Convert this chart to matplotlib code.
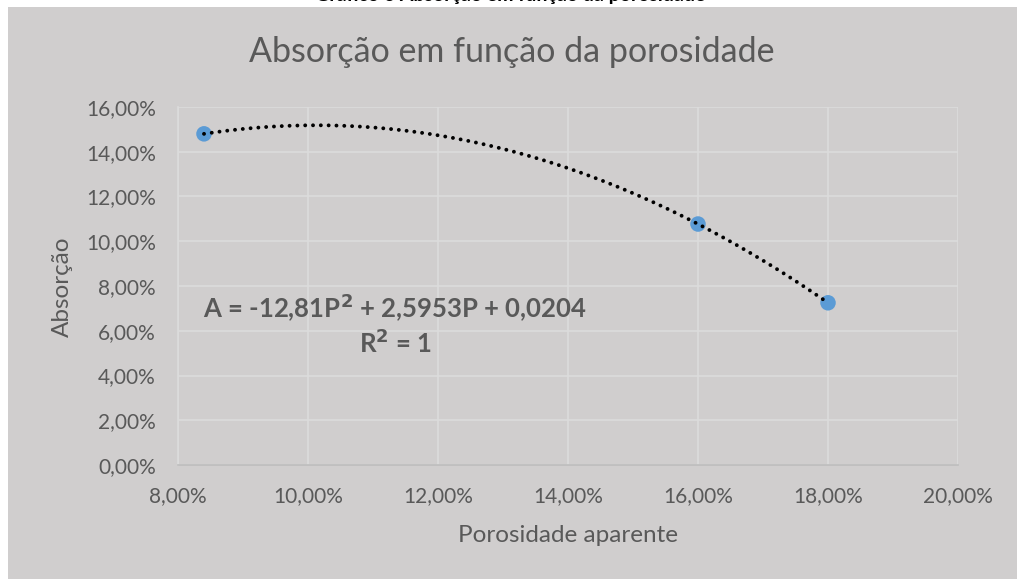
import matplotlib
matplotlib.use("Agg")
import matplotlib.pyplot as plt
import numpy as np
from matplotlib.ticker import FuncFormatter, MultipleLocator
from matplotlib.patches import Rectangle

porosidade = [0.084, 0.16, 0.18]
absorcao = [0.148, 0.1077, 0.0725]
equation_text = "A = -12,81P$^{\\mathbf{2}}$ + 2,5953P + 0,0204"
r2_text = "R$^{\\mathbf{2}}$ = 1"
title = "Absorção em função da porosidade"
top_title = "Gráfico 6 Absorção em função da porosidade"
xlabel = "Porosidade aparente"
ylabel = "Absorção"

W, H = 1017, 579
fig = plt.figure(figsize=(W / 100, H / 100), dpi=100)
fig.patch.set_facecolor("white")
bg = "#d0cece"
fig.patches.append(Rectangle((8 / W, 0), 1 - 8 / W, 1 - 7 / H, transform=fig.transFigure,
                             facecolor=bg, edgecolor="none", zorder=-5))

font = "Lato"
txt = "#595959"
fig.text(510 / W, 1 - 1.5 / H, top_title, ha="center", va="baseline", fontsize=14,
         fontweight="bold", color="black", family=font)

ax = fig.add_axes([178 / W, 1 - 465 / H, (958 - 178) / W, (465 - 107) / H])
ax.set_facecolor(bg)
ax.set_xlim(0.08, 0.20)
ax.set_ylim(0.0, 0.16)
ax.xaxis.set_major_locator(MultipleLocator(0.02))
ax.yaxis.set_major_locator(MultipleLocator(0.02))
fmt = FuncFormatter(lambda v, p: f"{v * 100:.2f}%".replace(".", ","))
ax.xaxis.set_major_formatter(fmt)
ax.yaxis.set_major_formatter(fmt)
ax.grid(True, color="#dcdcdc", linewidth=1.2, zorder=1)
ax.set_axisbelow(True)
for s in ["top", "right"]:
    ax.spines[s].set_visible(False)
ax.spines["left"].set_color("#dcdcdc")
ax.spines["bottom"].set_color("#bdbdbd")
ax.spines["left"].set_linewidth(1.2)
ax.spines["bottom"].set_linewidth(1.2)
ax.tick_params(length=0, labelsize=15, labelcolor=txt)
ax.tick_params(axis="y", pad=16)
ax.tick_params(axis="x", pad=15)
for lab in ax.get_xticklabels() + ax.get_yticklabels():
    lab.set_family(font)

ax.scatter(porosidade, absorcao, s=125, color="#5b9bd5", zorder=3, edgecolors="none")
coef = np.polyfit(porosidade, absorcao, 2)
xs = np.linspace(min(porosidade), max(porosidade), 300)
ax.plot(xs, np.polyval(coef, xs), color="black", linewidth=2.8,
        linestyle=(0, (0.01, 2.0)), dash_capstyle="round", zorder=4)

ax.text(0.1134, 0.0702, equation_text, fontsize=18.5, fontweight="bold", color=txt, family=font,
        va="center", ha="center")
ax.text(0.1134, 0.0545, r2_text, fontsize=18.5, fontweight="bold", color=txt, family=font,
        va="center", ha="center")

fig.text(512 / W, 1 - 52 / H, title, ha="center", va="center", fontsize=24.5, color=txt, family=font)
fig.text(568 / W, 1 - 535 / H, xlabel, ha="center", va="center", fontsize=17.5, color=txt, family=font)
fig.text(62 / W, 1 - 287 / H, ylabel, ha="center", va="center", fontsize=17.5, color=txt, family=font,
         rotation=90)

fig.savefig("out.png", dpi=100, facecolor=fig.get_facecolor())
